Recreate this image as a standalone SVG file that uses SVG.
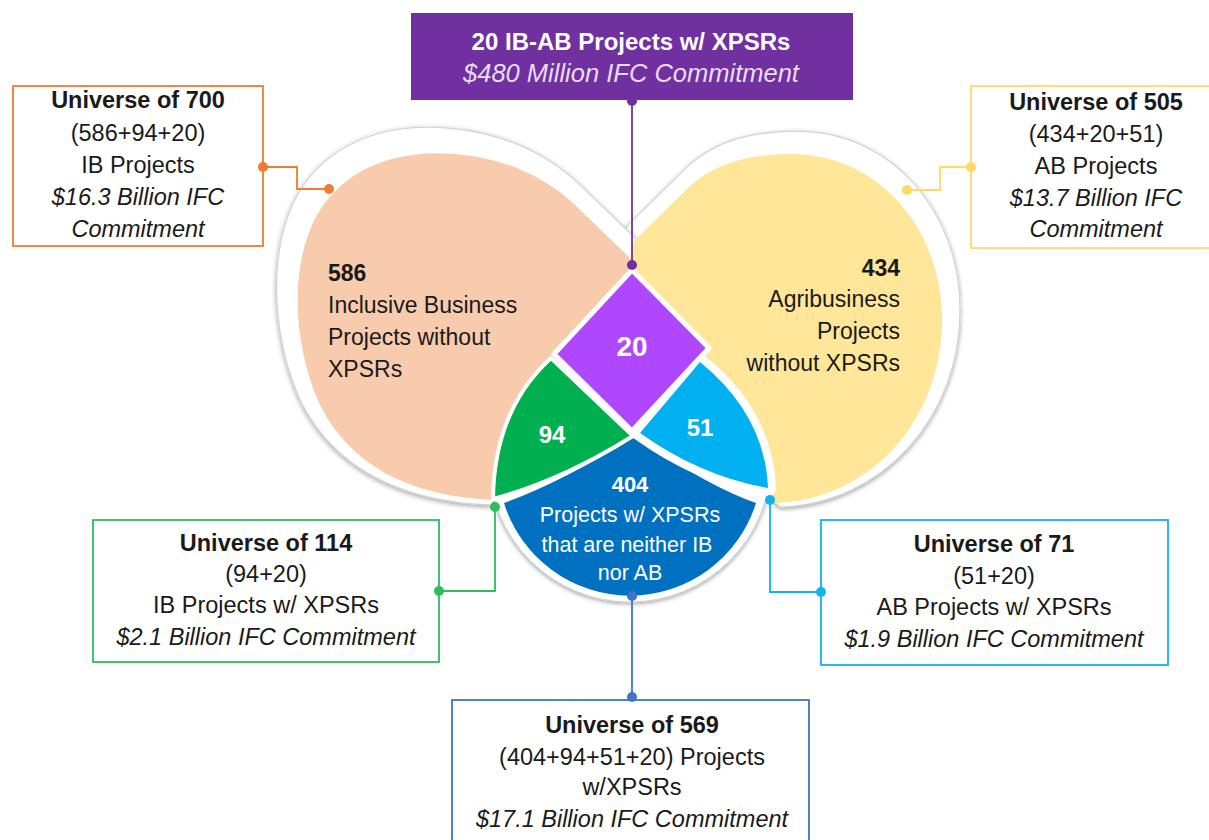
<svg xmlns="http://www.w3.org/2000/svg" width="1209" height="840" viewBox="0 0 1209 840">
<style>
text{font-family:"Liberation Sans",Arial,sans-serif;fill:#1a1a1a}
.b{font-weight:bold}
.i{font-style:italic}
.c{text-anchor:middle}
.e{text-anchor:end}
.bx{font-size:23.5px}
.lb{font-size:23px}
.w{fill:#ffffff}
.ring{fill:#ffffff;stroke:#d2d2d2;stroke-width:1;filter:url(#sh)}
.box{fill:#ffffff;stroke-width:1.8}
.con{fill:none;stroke-width:1.8}
</style>
<defs>
<filter id="sh" x="-15%" y="-15%" width="130%" height="130%">
<feDropShadow dx="0" dy="1.5" stdDeviation="2.2" flood-color="#000000" flood-opacity="0.38"/>
</filter>
<path id="lobeL" d="M 631 259 L 575 205 C 545 177 505 158 455 154 C 380 148 330 180 310 230 C 290 280 295 350 320 405 C 350 465 410 497 495 500 L 560 425 L 632 350 Z"/>
<path id="lobeR" d="M 632 268 L 632 243 L 690 186 C 715 163 750 154 790 154 C 880 154 942 230 942 320 C 942 420 870 500 775 503 L 700 440 L 632 350 Z"/>
</defs>
<rect width="1209" height="840" fill="#ffffff"/>

<g id="rings">
<use href="#lobeR" class="ring" transform="translate(708 451) scale(1.077) translate(-708 -451)"/>
<use href="#lobeL" class="ring" transform="translate(534 445) scale(1.089) translate(-534 -445)"/>
<circle cx="630" cy="461" r="141" class="ring"/>
</g>

<g id="node-ib">
<use href="#lobeL" fill="#F8CBAD"/>
<text class="lb b" x="328" y="281">586</text>
<text class="lb" x="328" y="313">Inclusive Business</text>
<text class="lb" x="328" y="345">Projects without</text>
<text class="lb" x="328" y="377">XPSRs</text>
</g>

<g id="node-ab">
<use href="#lobeR" fill="#FFE699"/>
<text class="lb b e" x="900" y="276">434</text>
<text class="lb e" x="900" y="307">Agribusiness</text>
<text class="lb e" x="900" y="339">Projects</text>
<text class="lb e" x="900" y="371">without XPSRs</text>
</g>

<g id="node-404">
<path d="M 632 438 Q 562 482 504 503 A 132 132 0 0 0 756 503 Q 712 488 640 440 Z" fill="#0070C0"/>
<text class="b c w" x="630" y="492" style="font-size:22px">404</text>
<text class="c w" x="630" y="522" style="font-size:21.5px">Projects w/ XPSRs</text>
<text class="c w" x="627" y="552" style="font-size:21.5px">that are neither IB</text>
<text class="c w" x="630" y="580" style="font-size:21.5px">nor AB</text>
</g>

<g id="node-51">
<path d="M 640 433 L 700 362 Q 765 415 768 488 Q 700 476 640 433 Z" fill="#00B0F0" stroke="#ffffff" stroke-width="16" stroke-linejoin="round" paint-order="stroke"/>
<text class="b c w" x="700" y="436" style="font-size:24px">51</text>
</g>

<g id="node-94">
<path d="M 551 358 L 633 436 Q 561 481 493 499 Q 494 410 551 358 Z" fill="#00B050" stroke="#ffffff" stroke-width="4" stroke-linejoin="round"/>
<text class="b c w" x="552" y="443" style="font-size:24px">94</text>
</g>

<g id="node-20">
<polygon points="632,270 709,348 632,431 554,354" fill="#AF47FF" stroke="#ffffff" stroke-width="5"/>
<text class="b c w" x="632" y="356" style="font-size:28px">20</text>
</g>

<g id="box-top">
<rect x="411" y="13" width="442" height="87" fill="#7030A0"/>
<text class="b c w" x="631" y="50" style="font-size:24px">20 IB-AB Projects w/ XPSRs</text>
<text class="i c" x="631" y="82" style="font-size:25.5px;fill:#E8DDF3">$480 Million IFC Commitment</text>
</g>

<g id="box-ib">
<rect class="box" x="13" y="86" width="250" height="160" stroke="#ED7D31"/>
<text class="bx b c" x="138" y="108">Universe of 700</text>
<text class="bx c" x="138" y="141">(586+94+20)</text>
<text class="bx c" x="138" y="173">IB Projects</text>
<text class="bx i c" x="138" y="205">$16.3 Billion IFC</text>
<text class="bx i c" x="138" y="237">Commitment</text>
</g>

<g id="box-ab">
<rect class="box" x="971" y="86" width="260" height="162" stroke="#FFD966"/>
<text class="bx b c" x="1096" y="110">Universe of 505</text>
<text class="bx c" x="1096" y="142">(434+20+51)</text>
<text class="bx c" x="1096" y="174">AB Projects</text>
<text class="bx i c" x="1096" y="206">$13.7 Billion IFC</text>
<text class="bx i c" x="1096" y="237">Commitment</text>
</g>

<g id="box-ibx">
<rect class="box" x="93" y="520" width="346" height="142" stroke="#2BBE5C"/>
<text class="bx b c" x="266" y="551">Universe of 114</text>
<text class="bx c" x="266" y="582">(94+20)</text>
<text class="bx c" x="266" y="613">IB Projects w/ XPSRs</text>
<text class="bx i c" x="266" y="645">$2.1 Billion IFC Commitment</text>
</g>

<g id="box-abx">
<rect class="box" x="821" y="520" width="347" height="145" stroke="#12B2F0"/>
<text class="bx b c" x="994" y="552">Universe of 71</text>
<text class="bx c" x="994" y="584">(51+20)</text>
<text class="bx c" x="994" y="615">AB Projects w/ XPSRs</text>
<text class="bx i c" x="994" y="647">$1.9 Billion IFC Commitment</text>
</g>

<g id="box-all">
<rect class="box" x="452" y="700" width="357" height="160" stroke="#4472C4"/>
<text class="bx b c" x="632" y="733">Universe of 569</text>
<text class="bx c" x="632" y="765">(404+94+51+20) Projects</text>
<text class="bx c" x="632" y="795">w/XPSRs</text>
<text class="bx i c" x="632" y="827">$17.1 Billion IFC Commitment</text>
</g>

<g id="connectors">
<path class="con" stroke="#7030A0" d="M 632 101 V 265"/>
<path class="con" stroke="#ED7D31" d="M 263 167 H 297 V 189 H 329"/>
<path class="con" stroke="#FFD966" d="M 971 167 H 940 V 190 H 907"/>
<path class="con" stroke="#2BBE5C" d="M 439 591 H 495 V 507"/>
<path class="con" stroke="#12B2F0" d="M 821 592 H 770 V 500"/>
<path class="con" stroke="#4472C4" d="M 632 596 V 697"/>
<g fill="#7030A0"><circle cx="632" cy="101" r="5"/><circle cx="632" cy="265" r="5"/></g>
<g fill="#ED7D31"><circle cx="263" cy="167" r="5"/><circle cx="329" cy="189" r="5"/></g>
<g fill="#FFD966"><circle cx="971" cy="167" r="5"/><circle cx="907" cy="190" r="5"/></g>
<g fill="#2BBE5C"><circle cx="439" cy="591" r="5"/><circle cx="495" cy="507" r="5"/></g>
<g fill="#12B2F0"><circle cx="821" cy="592" r="5"/><circle cx="770" cy="500" r="5"/></g>
<g fill="#4472C4"><circle cx="632" cy="596" r="5"/><circle cx="632" cy="697" r="5"/></g>
</g>
</svg>
